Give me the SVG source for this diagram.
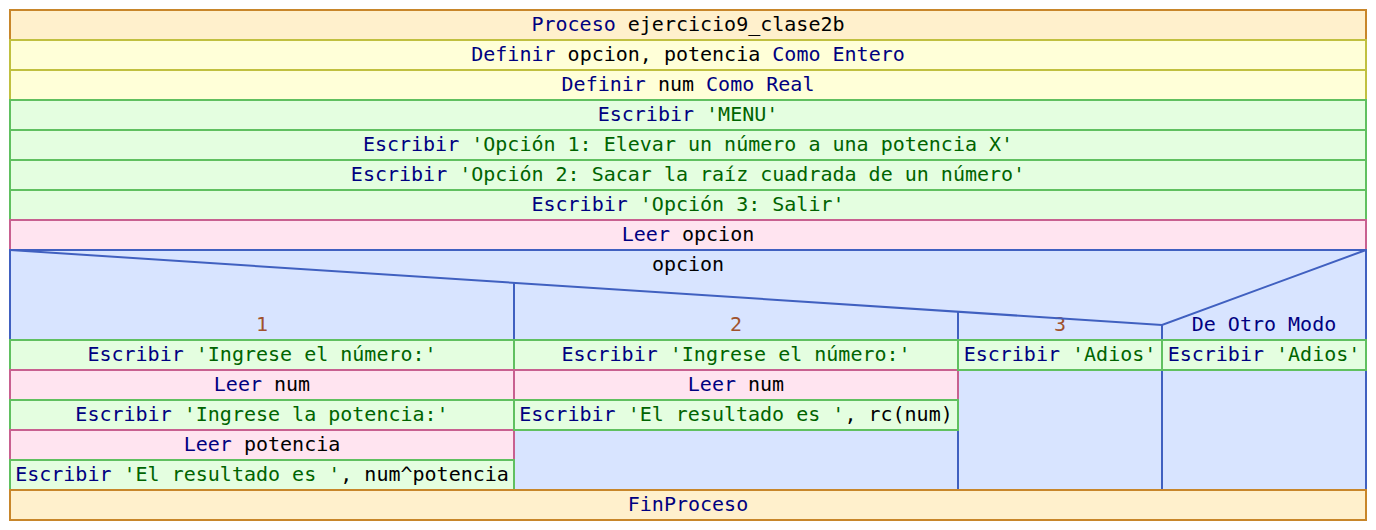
<svg xmlns="http://www.w3.org/2000/svg" width="1376" height="530" viewBox="0 0 1376 530">
<style>
text{font-family:"DejaVu Sans Mono","Liberation Mono",monospace;font-size:20px;text-anchor:middle;fill:#000}
.k{fill:#000080}
.s{fill:#006400}
.lbl{fill:#a0522d}
.proc{fill:#fff0cc;stroke:#c8862a;stroke-width:2}
.def{fill:#ffffd8;stroke:#c0c040;stroke-width:2}
.esc{fill:#e4fee0;stroke:#60c060;stroke-width:2}
.leer{fill:#ffe4f0;stroke:#c86090;stroke-width:2}
.sw{fill:#d8e4ff;stroke:#4060c0;stroke-width:2}
.ln{stroke:#4060c0;stroke-width:2;fill:none}
</style>
<rect width="1376" height="530" fill="#fff"/>
<g id="n_proceso"><rect class="proc" x="10" y="10" width="1356" height="30"/><text x="688" y="31"><tspan class="k">Proceso</tspan> ejercicio9_clase2b</text></g>
<g id="n_def1"><rect class="def" x="10" y="40" width="1356" height="30"/><text x="688" y="61"><tspan class="k">Definir</tspan> opcion, potencia <tspan class="k">Como Entero</tspan></text></g>
<g id="n_def2"><rect class="def" x="10" y="70" width="1356" height="30"/><text x="688" y="91"><tspan class="k">Definir</tspan> num <tspan class="k">Como Real</tspan></text></g>
<g id="n_esc1"><rect class="esc" x="10" y="100" width="1356" height="30"/><text x="688" y="121"><tspan class="k">Escribir</tspan> <tspan class="s">'MENU'</tspan></text></g>
<g id="n_esc2"><rect class="esc" x="10" y="130" width="1356" height="30"/><text x="688" y="151"><tspan class="k">Escribir</tspan> <tspan class="s">'Opción 1: Elevar un número a una potencia X'</tspan></text></g>
<g id="n_esc3"><rect class="esc" x="10" y="160" width="1356" height="30"/><text x="688" y="181"><tspan class="k">Escribir</tspan> <tspan class="s">'Opción 2: Sacar la raíz cuadrada de un número'</tspan></text></g>
<g id="n_esc4"><rect class="esc" x="10" y="190" width="1356" height="30"/><text x="688" y="211"><tspan class="k">Escribir</tspan> <tspan class="s">'Opción 3: Salir'</tspan></text></g>
<g id="n_leer"><rect class="leer" x="10" y="220" width="1356" height="30"/><text x="688" y="241"><tspan class="k">Leer</tspan> opcion</text></g>
<g id="n_segun">
<rect class="sw" x="10" y="250" width="1356" height="240"/>
<text x="688" y="271">opcion</text>
<text class="lbl" x="262" y="331">1</text>
<text class="lbl" x="736" y="331">2</text>
<text class="lbl" x="1060" y="331">3</text>
<text class="k" x="1264" y="331">De Otro Modo</text>
</g>
<g id="connectors">
<polyline class="ln" points="10,250 1162,325 1366,250"/>
<line class="ln" x1="514" y1="283" x2="514" y2="490"/>
<line class="ln" x1="958" y1="312" x2="958" y2="490"/>
<line class="ln" x1="1162" y1="325" x2="1162" y2="490"/>
</g>
<g id="c1_esc1"><rect class="esc" x="10" y="340" width="504" height="30"/><text x="262" y="361"><tspan class="k">Escribir</tspan> <tspan class="s">'Ingrese el número:'</tspan></text></g>
<g id="c1_leer1"><rect class="leer" x="10" y="370" width="504" height="30"/><text x="262" y="391"><tspan class="k">Leer</tspan> num</text></g>
<g id="c1_esc2"><rect class="esc" x="10" y="400" width="504" height="30"/><text x="262" y="421"><tspan class="k">Escribir</tspan> <tspan class="s">'Ingrese la potencia:'</tspan></text></g>
<g id="c1_leer2"><rect class="leer" x="10" y="430" width="504" height="30"/><text x="262" y="451"><tspan class="k">Leer</tspan> potencia</text></g>
<g id="c1_esc3"><rect class="esc" x="10" y="460" width="504" height="30"/><text x="262" y="481"><tspan class="k">Escribir</tspan> <tspan class="s">'El resultado es '</tspan>, num^potencia</text></g>
<g id="c2_esc1"><rect class="esc" x="514" y="340" width="444" height="30"/><text x="736" y="361"><tspan class="k">Escribir</tspan> <tspan class="s">'Ingrese el número:'</tspan></text></g>
<g id="c2_leer1"><rect class="leer" x="514" y="370" width="444" height="30"/><text x="736" y="391"><tspan class="k">Leer</tspan> num</text></g>
<g id="c2_esc2"><rect class="esc" x="514" y="400" width="444" height="30"/><text x="736" y="421"><tspan class="k">Escribir</tspan> <tspan class="s">'El resultado es '</tspan>, rc(num)</text></g>
<g id="c3_esc1"><rect class="esc" x="958" y="340" width="204" height="30"/><text x="1060" y="361"><tspan class="k">Escribir</tspan> <tspan class="s">'Adios'</tspan></text></g>
<g id="c4_esc1"><rect class="esc" x="1162" y="340" width="204" height="30"/><text x="1264" y="361"><tspan class="k">Escribir</tspan> <tspan class="s">'Adios'</tspan></text></g>
<g id="n_fin"><rect class="proc" x="10" y="490" width="1356" height="30"/><text class="k" x="688" y="511">FinProceso</text></g>
</svg>
